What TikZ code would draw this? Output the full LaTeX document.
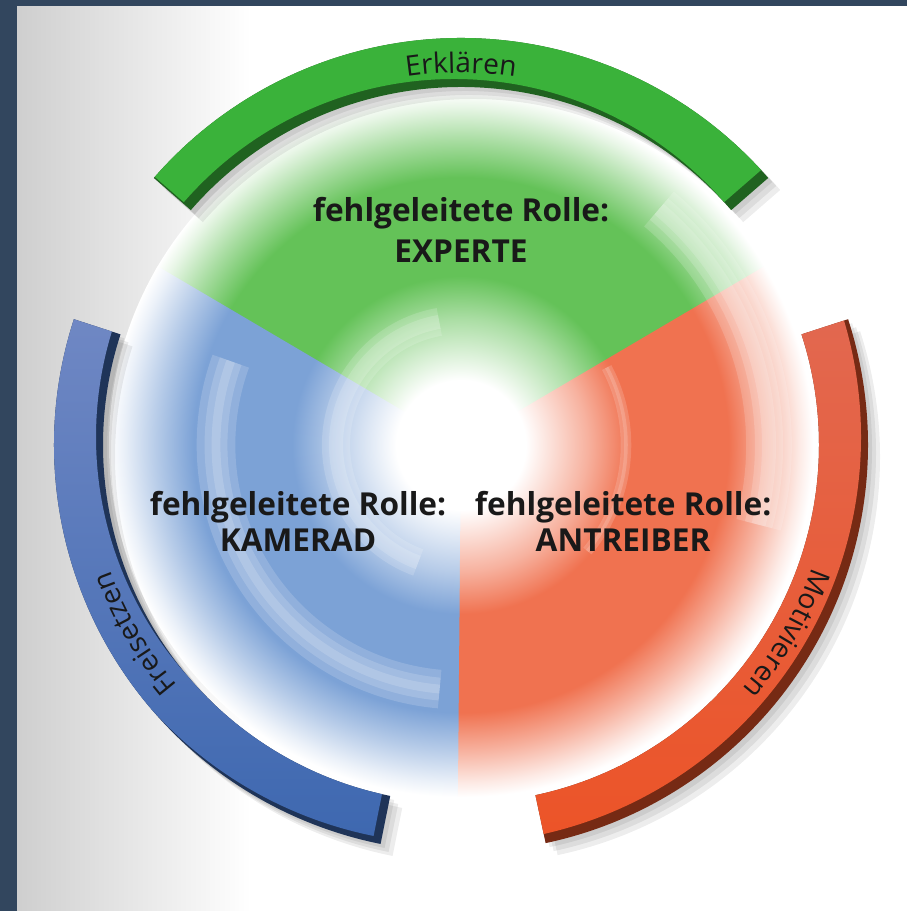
\documentclass[tikz,border=0pt]{standalone}
\usepackage{fontspec}
\setmainfont{Open Sans}
\usetikzlibrary{positioning, decorations.text, shadings}

\definecolor{spineColor}{RGB}{50,70,94}
\definecolor{greenArc}{RGB}{58,178,58}
\definecolor{blueArc}{RGB}{112,136,196}
\definecolor{blueDeep}{RGB}{62,104,176}
\definecolor{redArc}{RGB}{226,104,80}
\definecolor{redDeep}{RGB}{236,84,40}
\definecolor{greenSect}{RGB}{100,194,88}
\definecolor{blueSect}{RGB}{124,162,214}
\definecolor{redSect}{RGB}{240,114,80}
\colorlet{sectcol}{greenSect}

\newcommand{\rolefont}{\fontsize{18}{20.5}\selectfont\bfseries}
\newcommand{\arcfont}{\fontsize{16}{19}\selectfont}

% glow of one sector: white centre, colour in the middle, pale rim
% (the disk edge lies at 25bp of the shading)
\pgfdeclareradialshading[sectcol]{sectorglow}{\pgfpoint{0bp}{0bp}}{%
  color(0bp)=(white); color(4.6bp)=(white); color(9bp)=(sectcol!55!white);
  color(12bp)=(sectcol); color(19bp)=(sectcol); color(21.7bp)=(sectcol!55!white);
  color(24bp)=(sectcol!15!white); color(25bp)=(white); color(50bp)=(white)}

\begin{document}
\begin{tikzpicture}[x=0.02cm, y=0.02cm,
    rolebox/.style={align=center, inner sep=0pt, font=\rolefont, text=black!90},
    ringpath/.style 2 args={insert path={(#1:407) arc[start angle=#1, end angle=#2, radius=407] -- (#2:358) arc[start angle=#2, end angle=#1, radius=358] -- cycle}},
    ringshadow/.style={black, opacity=0.07},
    swirl/.style={white, opacity=0.16},
    arclabel/.style={decorate, decoration={text along path, text color=black!90, text align=center, text={|\arcfont|#1}}}
  ]

    % Page: white paper, shadow of the spine, dark edges
    \useasboundingbox (-461,-466) rectangle (446,445);
    \fill[white] (-461,-466) rectangle (446,445);
    \shade[left color=black!19, right color=white] (-444,-466) rectangle (-210,445);
    \fill[spineColor] (-461,-466) rectangle (-444,445);
    \fill[spineColor] (-444,439) rectangle (446,445);

    % Inner disk (three coloured sectors)
    \begin{scope}
      \clip (0,0) -- (29.5:356) arc[start angle=29.5, end angle=150.5, radius=356] -- cycle;
      \colorlet{sectcol}{greenSect}
      \shade[shading=sectorglow] (0,0) circle (352);
    \end{scope}
    \begin{scope}
      \clip (0,0) -- (149.5:356) arc[start angle=149.5, end angle=270.5, radius=356] -- cycle;
      \colorlet{sectcol}{blueSect}
      \shade[shading=sectorglow] (0,0) circle (352);
    \end{scope}
    \begin{scope}
      \clip (0,0) -- (269.5:356) arc[start angle=269.5, end angle=390.5, radius=356] -- cycle;
      \colorlet{sectcol}{redSect}
      \shade[shading=sectorglow] (0,0) circle (352);
    \end{scope}

    % Swirls (soft white rings)
    \draw[swirl, line width=16pt] (100:125) arc[start angle=100, end angle=250, radius=125];
    \draw[swirl, line width=8pt] (100:125) arc[start angle=100, end angle=250, radius=125];
    \draw[swirl, line width=22pt] (160:245) arc[start angle=160, end angle=265, radius=245];
    \draw[swirl, line width=13pt] (160:245) arc[start angle=160, end angle=265, radius=245];
    \draw[swirl, line width=5pt] (160:245) arc[start angle=160, end angle=265, radius=245];
    \draw[swirl, line width=26pt] (50:308) arc[start angle=50, end angle=-15, radius=308];
    \draw[swirl, line width=16pt] (50:308) arc[start angle=50, end angle=-15, radius=308];
    \draw[swirl, line width=8pt] (50:308) arc[start angle=50, end angle=-15, radius=308];
    \draw[swirl, line width=6pt] (28:165) arc[start angle=28, end angle=-40, radius=165];
    \draw[swirl, line width=2pt] (28:165) arc[start angle=28, end angle=-40, radius=165];

    % Shadows under the outer arcs
    \foreach \d in {4,8,12} {
      \fill[ringshadow, shift={(\d,-\d)}, ringpath={41}{139}];
      \fill[ringshadow, shift={(\d,-\d)}, ringpath={162}{258.6}];
      \fill[ringshadow, shift={(\d,-\d)}, ringpath={-78}{18}];
    }

    % Outer arcs (dark edge, lit face moved up left)
    \fill[greenArc!55!black, ringpath={41}{139}];
    \begin{scope}
      \clip[ringpath={41}{139}];
      \fill[greenArc, shift={(-7,8)}, ringpath={41}{139}];
    \end{scope}
    \fill[blueDeep!50!black, ringpath={162}{258.6}];
    \begin{scope}
      \clip[ringpath={162}{258.6}];
      \shade[top color=blueArc, bottom color=blueDeep, shift={(-7,8)}, ringpath={162}{258.6}];
    \end{scope}
    \fill[redDeep!50!black, ringpath={-78}{18}];
    \begin{scope}
      \clip[ringpath={-78}{18}];
      \shade[top color=redArc, bottom color=redDeep, shift={(-7,8)}, ringpath={-78}{18}];
    \end{scope}

    % Words along the arcs
    \path[arclabel=Erklären] (108:372) arc[start angle=108, end angle=72, radius=372];
    \path[arclabel=Freisetzen] (238:372) arc[start angle=238, end angle=182, radius=372];
    \path[arclabel=Motivieren] (-2:372) arc[start angle=-2, end angle=-58, radius=372];

    % Role labels
    \node[rolebox, anchor=north] (Experte) at (0,248) {fehlgeleitete Rolle:\\[3pt]EXPERTE};
    \node[rolebox, anchor=north] (Kamerad) at (-163,-46) {fehlgeleitete Rolle:\\KAMERAD};
    \node[rolebox, right=0.56cm of Kamerad] (Antreiber) {fehlgeleitete Rolle:\\ANTREIBER};

  \end{tikzpicture}
\end{document}
